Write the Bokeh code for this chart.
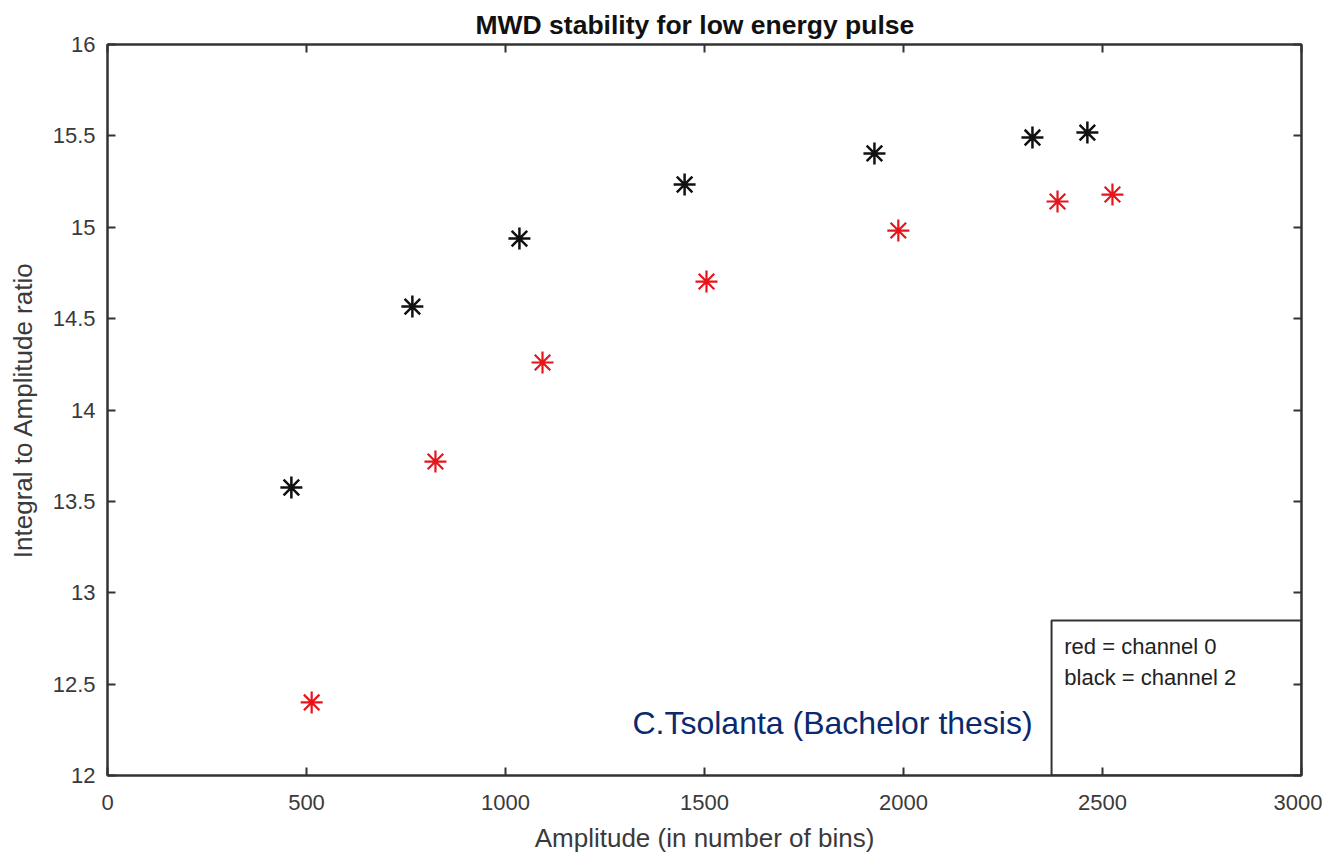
from bokeh.plotting import figure
from bokeh.models import LinearAxis, Range1d, FixedTicker, BoxAnnotation, Label, ColumnDataSource
from bokeh.embed import file_html
from bokeh.resources import INLINE

# Data
ch2_x = [462, 766, 1035, 1450, 1927, 2324, 2462]
ch2_y = [13.576, 14.566, 14.938, 15.234, 15.404, 15.491, 15.518]
ch0_x = [513, 824, 1093, 1505, 1987, 2387, 2525]
ch0_y = [12.40, 13.718, 14.26, 14.703, 14.982, 15.141, 15.179]

x_ticks = [0, 500, 1000, 1500, 2000, 2500, 3000]
y_ticks = [12, 12.5, 13, 13.5, 14, 14.5, 15, 15.5, 16]
x_tick_labels = {0: "0", 500: "500", 1000: "1000", 1500: "1500", 2000: "2000", 2500: "2500", 3000: "3000"}
y_tick_labels = {12: "12", 12.5: "12.5", 13: "13", 13.5: "13.5", 14: "14", 14.5: "14.5", 15: "15", 15.5: "15.5", 16: "16"}

legend_lines = ["red = channel 0", "black = channel 2"]
credit = "C.Tsolanta (Bachelor thesis)"

FONT = "Liberation Sans"
AX = "#333333"
TXT = "#3a3a3a"

p = figure(
    frame_width=1194, frame_height=731,
    x_range=Range1d(0, 3000), y_range=Range1d(12, 16),
    output_backend="svg", toolbar_location=None,
    x_axis_location=None, y_axis_location=None,
    min_border_left=107, min_border_right=21, min_border_top=44, min_border_bottom=72,
    title="MWD stability for low energy pulse",
)
p.title.align = "left"
p.title.offset = 368
p.title.text_font = FONT
p.title.text_font_size = "26.5px"
p.title.text_font_style = "bold"
p.title.text_color = "#111111"
p.title.standoff = 9
p.xgrid.visible = False
p.ygrid.visible = False
p.outline_line_color = AX
p.outline_line_width = 2
p.background_fill_color = "white"
p.border_fill_color = "white"


def style(ax, labels, show_labels=True):
    ax.major_tick_in = 8
    ax.major_tick_out = 0
    ax.minor_tick_in = 0
    ax.minor_tick_out = 0
    ax.axis_line_color = AX
    ax.axis_line_width = 2
    ax.major_tick_line_color = AX
    ax.major_tick_line_width = 2
    ax.major_label_overrides = labels
    ax.major_label_text_font = FONT
    ax.major_label_text_color = TXT
    ax.axis_label_text_font = FONT
    ax.axis_label_text_color = TXT
    ax.axis_label_text_font_style = "normal"
    if not show_labels:
        ax.major_label_text_font_size = "0px"
        ax.major_label_standoff = 0
    else:
        ax.major_label_text_font_size = "22px"
        ax.axis_label_text_font_size = "26px"


xb = LinearAxis(ticker=FixedTicker(ticks=x_ticks), axis_label="Amplitude (in number of bins)")
style(xb, x_tick_labels)
xb.major_label_standoff = 19
xb.axis_label_standoff = 10
yl = LinearAxis(ticker=FixedTicker(ticks=y_ticks), axis_label="Integral to Amplitude ratio")
style(yl, y_tick_labels)
yl.major_label_standoff = 12
yl.axis_label_standoff = 12
xt = LinearAxis(ticker=FixedTicker(ticks=x_ticks))
style(xt, {t: "" for t in x_ticks}, show_labels=False)
yr = LinearAxis(ticker=FixedTicker(ticks=y_ticks))
style(yr, {t: "" for t in y_ticks}, show_labels=False)
p.add_layout(xb, "below")
p.add_layout(yl, "left")
p.add_layout(xt, "above")
p.add_layout(yr, "right")

src2 = ColumnDataSource(dict(x=ch2_x, y=ch2_y))
src0 = ColumnDataSource(dict(x=ch0_x, y=ch0_y))
p.scatter("x", "y", source=src2, marker="asterisk", size=22, line_color="#111111", line_width=2.5)
p.scatter("x", "y", source=src0, marker="asterisk", size=22, line_color="#e8141b", line_width=2.2)

# legend-like text box
box = BoxAnnotation(left=2372, right=3000, bottom=12, top=12.848,
                    fill_color="white", fill_alpha=0.0, line_color=AX, line_alpha=1.0, line_width=2)
p.add_layout(box)
p.add_layout(Label(x=2404, y=12.706, text=legend_lines[0], text_font=FONT, text_font_size="22px",
                   text_color="#222222", text_baseline="middle"))
p.add_layout(Label(x=2404, y=12.536, text=legend_lines[1], text_font=FONT, text_font_size="22px",
                   text_color="#222222", text_baseline="middle"))

p.add_layout(Label(x=1319, y=12.29, text=credit, text_font=FONT, text_font_size="32px",
                   text_color="#0b2a6e", text_baseline="middle"))

open("out.html", "w").write(file_html(p, INLINE))
